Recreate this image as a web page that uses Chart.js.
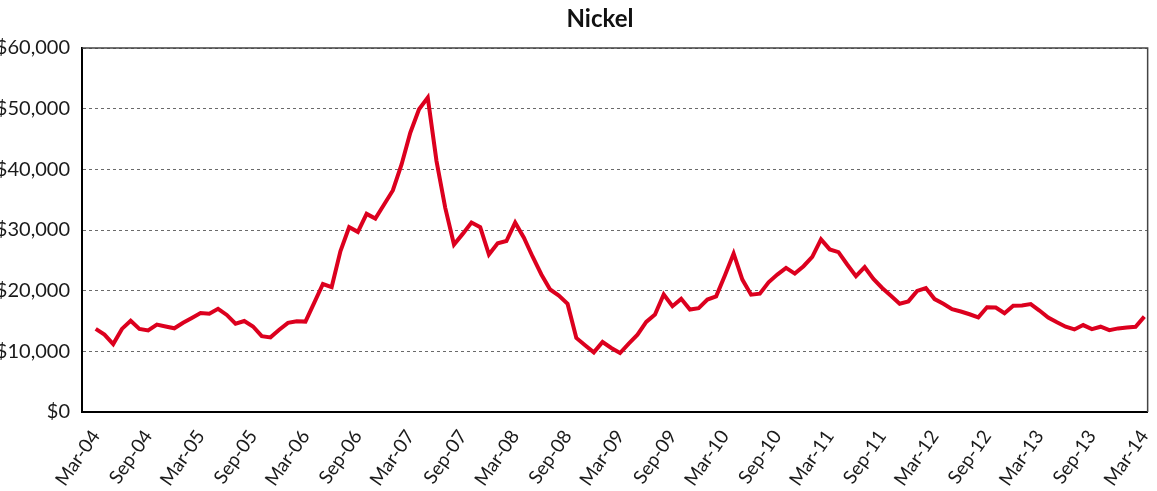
<!DOCTYPE html>
<html>
<head>
<meta charset="utf-8">
<script src="https://cdn.jsdelivr.net/npm/chart.js@4"></script>
<style>
  html, body { margin: 0; padding: 0; background: #fff; overflow: hidden; }
  #wrap { position: absolute; left: -10px; top: 0; width: 1187px; height: 491px; }
</style>
</head>
<body>
<div id="wrap"><canvas id="c" width="1187" height="491"></canvas></div>
<script>
// Monthly nickel price (USD/tonne), Mar-04 .. Mar-14
const prices = [
  13700, 12750, 11200, 13700, 15050, 13700, 13450, 14400, 14100, 13800, 14700, 15500,
  16300, 16200, 17000, 16000, 14550, 15000, 14100, 12500, 12300, 13550, 14700, 14950,
  14900, 18000, 21100, 20600, 26500, 30460, 29690, 32660, 31890, 34200, 36520, 40810,
  46040, 49890, 51820, 41360, 33650, 27600, 29360, 31230, 30460, 25950, 27800, 28180,
  31210, 28730, 25590, 22670, 20190, 19200, 17820, 12200, 10990, 9830, 11540, 10550,
  9720, 11270, 12750, 14850, 16060, 19370, 17440, 18650, 16890, 17110, 18530, 19060,
  22490, 26130, 21820, 19340, 19500, 21380, 22650, 23760, 22820, 24030, 25580, 28450,
  26800, 26350, 24310, 22380, 23870, 21930, 20440, 19170, 17850, 18230, 19950, 20440,
  18610, 17830, 16940, 16560, 16110, 15610, 17280, 17220, 16280, 17500, 17560, 17780,
  16720, 15560, 14780, 14060, 13610, 14330, 13670, 14060, 13500, 13780, 13940, 14060,
  15720
];
const xTickLabels = ['Mar-04','Sep-04','Mar-05','Sep-05','Mar-06','Sep-06','Mar-07','Sep-07',
  'Mar-08','Sep-08','Mar-09','Sep-09','Mar-10','Sep-10','Mar-11','Sep-11','Mar-12','Sep-12',
  'Mar-13','Sep-13','Mar-14'];
const yTickValues = [0, 10000, 20000, 30000, 40000, 50000, 60000];
const chartTitle = 'Nickel';

const points = prices.map((v, i) => ({ x: i, y: v }));
const FONT = 'Lato, "Open Sans", sans-serif';

const framePlugin = {
  id: 'frame',
  afterDraw(chart) {
    const { ctx, chartArea: a } = chart;
    ctx.save();
    ctx.strokeStyle = '#444';
    ctx.lineWidth = 1.5;
    ctx.beginPath();
    ctx.moveTo(a.left, a.top);
    ctx.lineTo(a.right, a.top);
    ctx.lineTo(a.right, a.bottom);
    ctx.stroke();
    ctx.fillStyle = '#111';
    ctx.font = 'bold 24px ' + FONT;
    ctx.textAlign = 'center';
    ctx.textBaseline = 'alphabetic';
    ctx.fillText(chartTitle, 610, 27);
    ctx.restore();
  }
};

new Chart(document.getElementById('c'), {
  type: 'line',
  data: {
    datasets: [{
      data: points,
      borderColor: 'rgb(220,0,30)',
      borderWidth: 4,
      pointRadius: 0,
      tension: 0,
      fill: false
    }]
  },
  plugins: [framePlugin],
  options: {
    responsive: false,
    animation: false,
    devicePixelRatio: 1,
    layout: { padding: { top: 48, right: 0, bottom: 0, left: 0 } },
    plugins: { legend: { display: false }, tooltip: { enabled: false }, title: { display: false } },
    scales: {
      x: {
        type: 'linear',
        min: -1.57,
        max: 120.38,
        afterBuildTicks(scale) { scale.ticks = xTickLabels.map((_, k) => ({ value: k * 6 })); },
        afterFit(scale) { scale.height = 79; },
        grid: { display: false, drawTicks: false },
        border: { display: true, color: '#000', width: 2 },
        ticks: {
          autoSkip: false,
          minRotation: 55,
          maxRotation: 55,
          padding: 14,
          color: '#1a1a1a',
          font: { family: FONT, size: 19 },
          callback: (v) => xTickLabels[Math.round(v / 6)]
        }
      },
      y: {
        min: 0,
        max: 60000,
        afterBuildTicks(scale) { scale.ticks = yTickValues.map(v => ({ value: v })); },
        afterFit(scale) { scale.width = 92; },
        grid: { color: '#6a6a6a', lineWidth: 1, drawTicks: false },
        border: { display: true, color: '#000', width: 2, dash: [3, 3] },
        ticks: {
          padding: 12,
          color: '#1a1a1a',
          font: { family: FONT, size: 20 },
          callback: (v) => '$' + v.toLocaleString('en-US')
        }
      }
    }
  }
});
</script>
</body>
</html>
